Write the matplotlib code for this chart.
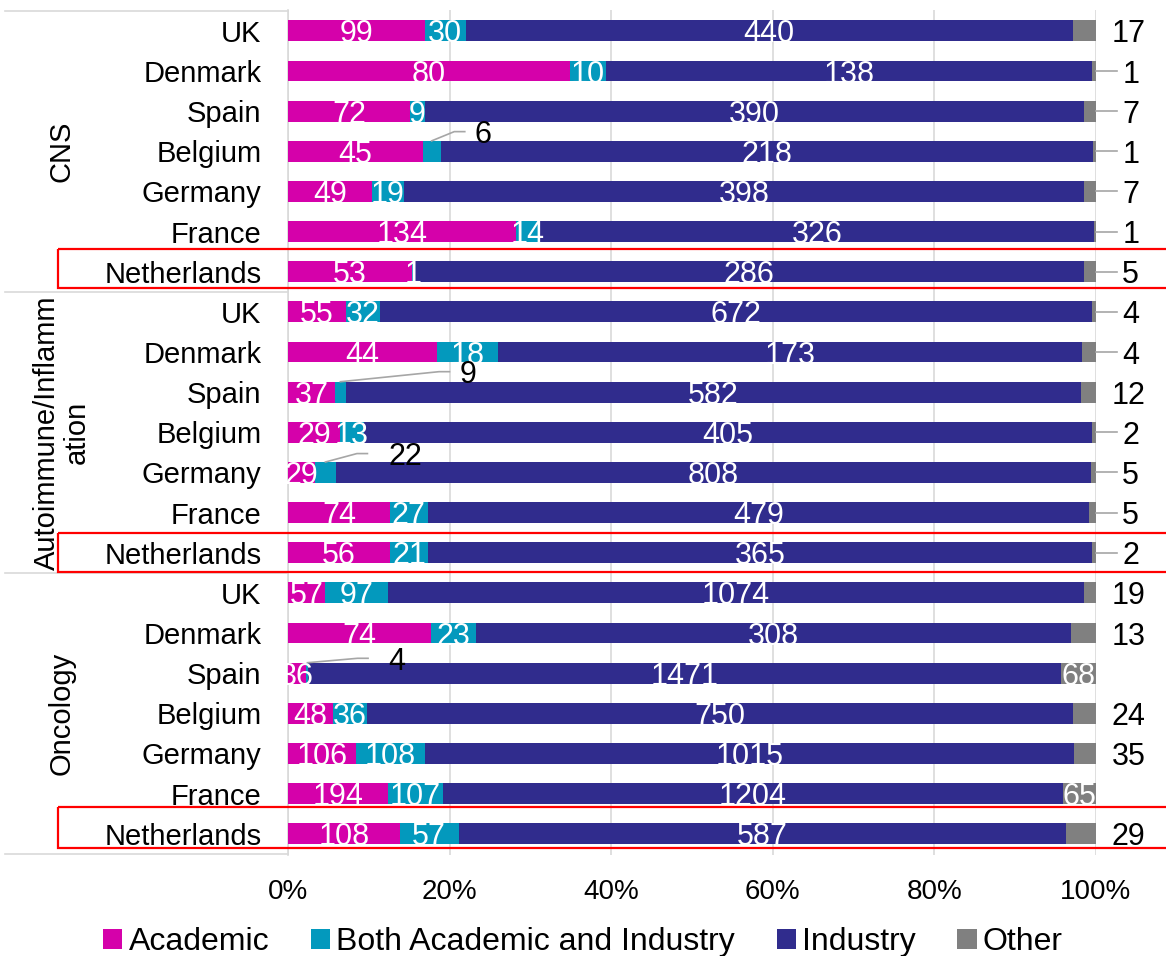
import matplotlib
matplotlib.use("Agg")
import matplotlib.pyplot as plt
from matplotlib.patches import Rectangle, Patch
import matplotlib.transforms as mtransforms
import numpy as np

plt.rcParams['font.family'] = ['Liberation Sans', 'DejaVu Sans']

# ---- data -------------------------------------------------------------
countries = ["UK", "Denmark", "Spain", "Belgium", "Germany", "France", "Netherlands"]
groups = ["CNS", "Autoimmune/Inflamm\nation", "Oncology"]
series = ["Academic", "Both Academic and Industry", "Industry", "Other"]

academic = [99, 80, 72, 45, 49, 134, 53,
            55, 44, 37, 29, 29, 74, 56,
            57, 74, 36, 48, 106, 194, 108]
both = [30, 10, 9, 6, 19, 14, 1,
        32, 18, 9, 13, 22, 27, 21,
        97, 23, 4, 36, 108, 107, 57]
industry = [440, 138, 390, 218, 398, 326, 286,
            672, 173, 582, 405, 808, 479, 365,
            1074, 308, 1471, 750, 1015, 1204, 587]
other = [17, 1, 7, 1, 7, 1, 5,
         4, 4, 12, 2, 5, 5, 2,
         19, 13, 68, 24, 35, 65, 29]

colors = ["#D501AA", "#0399BD", "#302C8D", "#808080"]

# ---- figure -----------------------------------------------------------
fig = plt.figure(figsize=(11.66, 9.56), dpi=100)
ax = fig.add_axes([288 / 1166, 1 - 855 / 956, 808 / 1166, 845 / 956])

vals = np.array([academic, both, industry, other], dtype=float)
totals = vals.sum(axis=0)
pct = vals / totals * 100
n = len(academic)
y = np.arange(n)
bar_h = 0.52

lefts = np.zeros(n)
for k in range(4):
    ax.barh(y, pct[k], left=lefts, height=bar_h, color=colors[k],
            edgecolor="none", zorder=3)
    lefts = lefts + pct[k]

ax.set_xlim(0, 100)
ax.set_ylim(n - 0.47, -0.52)

# axis styling
for s in ["top", "right", "bottom"]:
    ax.spines[s].set_visible(False)
ax.spines["left"].set_color("#d9d9d9")
ax.spines["left"].set_linewidth(1.2)
ax.set_xticks(np.arange(0, 101, 20))
ax.set_xticklabels([f"{v}%" for v in range(0, 101, 20)], fontsize=20)
ax.tick_params(axis="x", length=0, pad=17)
ax.grid(axis="x", color="#d9d9d9", linewidth=1.2, zorder=0)
ax.set_yticks(y)
ax.set_yticklabels(countries * 3, fontsize=21)
ax.tick_params(axis="y", length=0, pad=19)

# group separators and group names on the left
blend = mtransforms.blended_transform_factory(ax.transAxes, ax.transData)
for b in [-0.5, 6.5, 13.5, 20.5]:
    ax.plot([-0.35, 0], [b, b], transform=blend, color="#d9d9d9",
            linewidth=1.2, clip_on=False)
for gi, g in enumerate(groups):
    ax.text(-0.28, gi * 7 + 3, g, transform=blend, rotation=90,
            ha="center", va="center", fontsize=21, linespacing=1.05,
            multialignment="center")

# highlight the Netherlands rows
rect_spans = [(-0.57, 0.41), (-0.48, 0.49), (-0.66, 0.35)]
for gi, (top, bot) in enumerate(rect_spans):
    row = gi * 7 + 6
    ax.add_patch(Rectangle((-0.285, row + top), 1.6, bot - top,
                           transform=blend, fill=False, edgecolor="#FF0000",
                           linewidth=1.6, clip_on=False, zorder=6))

# ---- data labels ------------------------------------------------------
label_fs = 22
both_outside = {3: (6.3, -0.49, 4.1), 9: (15.8, -0.51, 13.5),
                11: (9.9, -0.47, 5.2), 16: (11.0, -0.37, 7.5)}

starts = np.vstack([np.zeros(n), np.cumsum(pct, axis=0)[:-1]])
for k, vlist in enumerate([academic, both, industry, other]):
    for i in range(n):
        c = starts[k, i] + pct[k, i] / 2
        txt = str(vlist[i])
        if k == 1 and i in both_outside:
            dx, dy, dl = both_outside[i]
            lx, ly = c + dx, i + dy
            ax.plot([c, c + dl - 1.3, c + dl], [i - bar_h / 2, ly, ly],
                    color="#a6a6a6", linewidth=1.2, clip_on=False, zorder=4)
            ax.text(lx, ly, txt, ha="center", va="center_baseline",
                    fontsize=label_fs, color="black", zorder=5)
        elif k == 3 and vlist[i] < 60:
            if vlist[i] < 10:
                ax.plot([100, 102.6], [i, i], color="#a6a6a6", linewidth=1.2,
                        clip_on=False, zorder=4)
                lx = 104.3
            else:
                lx = 104.0
            ax.text(lx, i, txt, ha="center", va="center_baseline",
                    fontsize=label_fs, color="black", clip_on=False)
        else:
            ax.text(c, i, txt, ha="center", va="center_baseline",
                    fontsize=label_fs, color="white", zorder=5)

# ---- legend -----------------------------------------------------------
handles = [Patch(facecolor=colors[k], edgecolor="none", label=series[k])
           for k in range(4)]
fig.legend(handles=handles, loc="center", bbox_to_anchor=(0.5, 14 / 956),
           ncol=4, frameon=False, fontsize=23, handlelength=0.6,
           handleheight=0.6, handletextpad=0.2, columnspacing=1.3,
           borderpad=0)

fig.savefig("out.png", dpi=100)
